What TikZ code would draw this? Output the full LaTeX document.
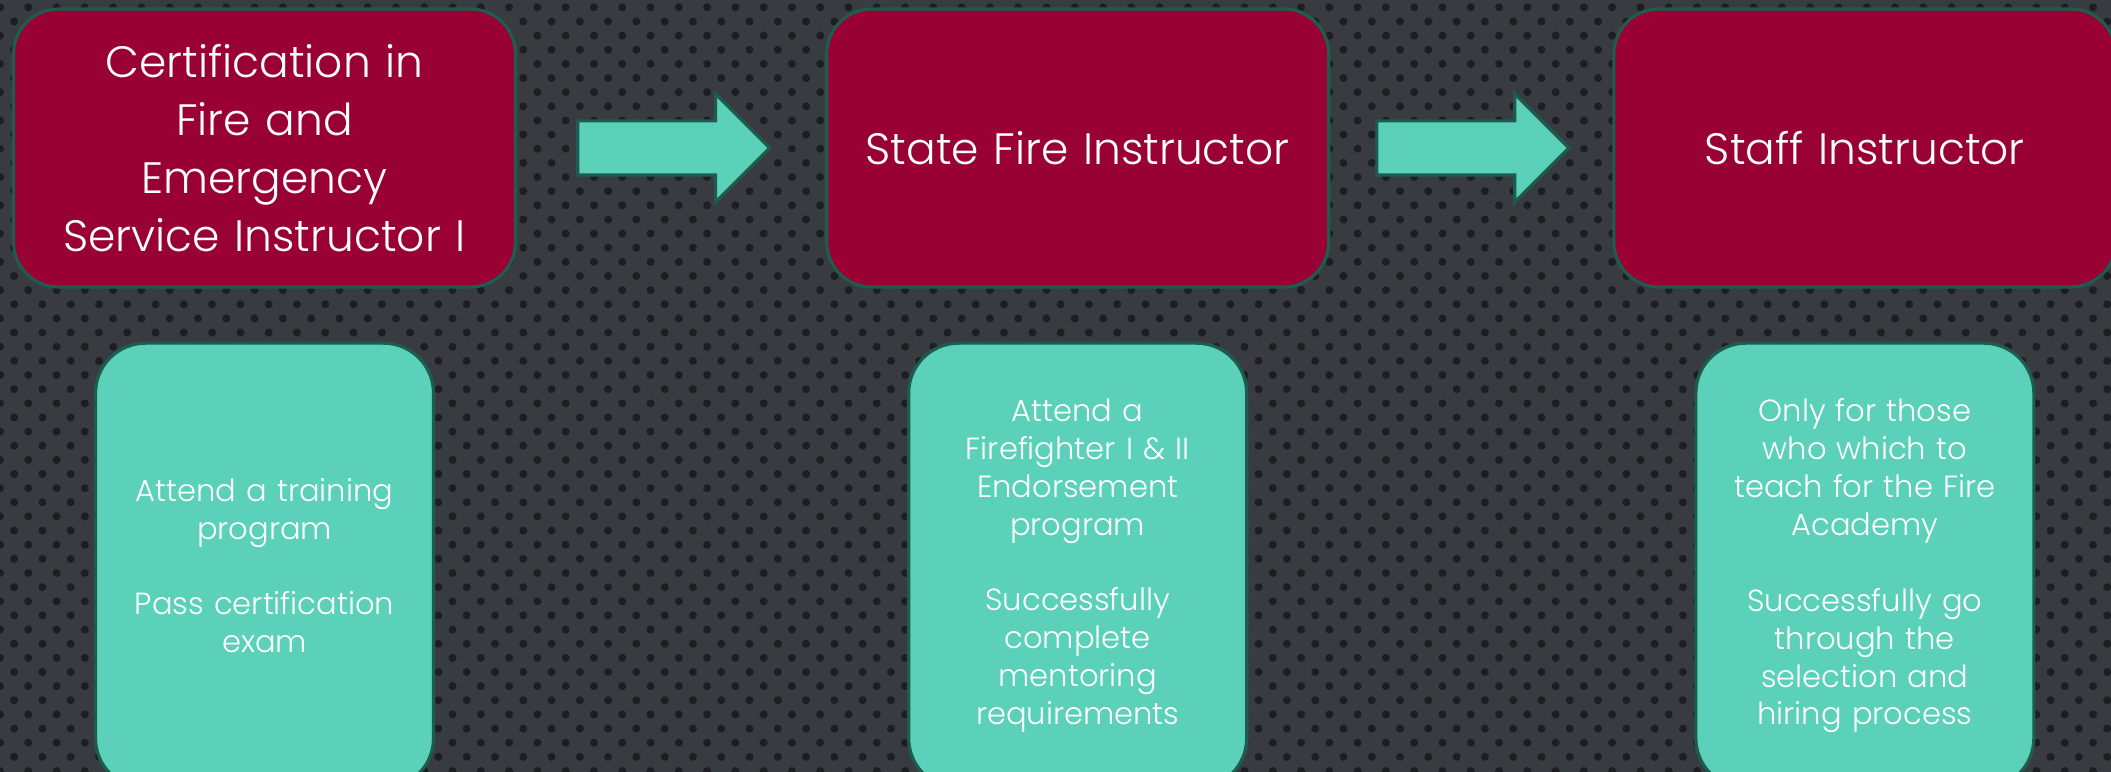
\documentclass[tikz,border=0pt]{standalone}
\usepackage{fontspec}
\setmainfont{Poppins Light}
\usetikzlibrary{positioning,calc,shapes.arrows,patterns.meta}

\definecolor{maroon}{HTML}{990033}
\definecolor{mint}{HTML}{5AD1B8}
\definecolor{rim}{HTML}{1E5C50}
\definecolor{steel}{HTML}{383B40}
\definecolor{hole}{HTML}{1C1E21}

\begin{document}
\begin{tikzpicture}

      \clip (0,0) rectangle (21.11,7.71);
      \fill[steel] (-0.2,-0.2) rectangle (21.3,7.9);
      \fill[pattern={Dots[distance=0.2cm,radius=0.04cm,angle=45]},pattern color=hole]
        (-0.2,-0.2) rectangle (21.3,7.9);

      \begin{scope}[every node/.style={draw=rim,line width=0.9pt,fill=maroon,text=white,
          rounded corners=0.45cm,minimum width=5.02cm,minimum height=2.78cm,
          text width=4.7cm,align=center,font=\fontsize{12.5}{16.5}\selectfont}]
        \node (cert)  at (2.645,6.23) {Certification in\\Fire and\\Emergency\\Service Instructor I};
        \node (state) [right=3.08cm of cert]  {State Fire Instructor};
        \node (staff) [right=2.82cm of state] {Staff Instructor};
      \end{scope}

      \begin{scope}[every node/.style={draw=rim,line width=0.9pt,fill=mint,text=white,
          rounded corners=0.5cm,minimum width=3.38cm,minimum height=4.45cm,
          text width=3.1cm,align=center,font=\fontsize{8.7}{10.8}\selectfont}]
        \node (certreq)  [below=0.53cm of cert]  {Attend a training\\program\\[10.8pt]Pass certification\\exam};
        \node (statereq) [below=0.53cm of state] {Attend a\\Firefighter I \& II\\Endorsement\\program\\[10.8pt]Successfully\\complete\\mentoring\\requirements};
        \node (staffreq) [below=0.53cm of staff] {Only for those\\who which to\\teach for the Fire\\Academy\\[10.8pt]Successfully go\\through the\\selection and\\hiring process};
      \end{scope}

      \begin{scope}[every node/.style={single arrow,draw=rim,line width=0.9pt,fill=mint,
          minimum height=1.92cm,minimum width=1.05cm,inner xsep=0pt,inner ysep=0.255cm,
          single arrow head extend=0.27cm,single arrow tip angle=90}]
        \node (arrA) [right=0.59cm of cert]  {};
        \node (arrB) [right=0.45cm of state] {};
      \end{scope}

    \end{tikzpicture}
\end{document}
